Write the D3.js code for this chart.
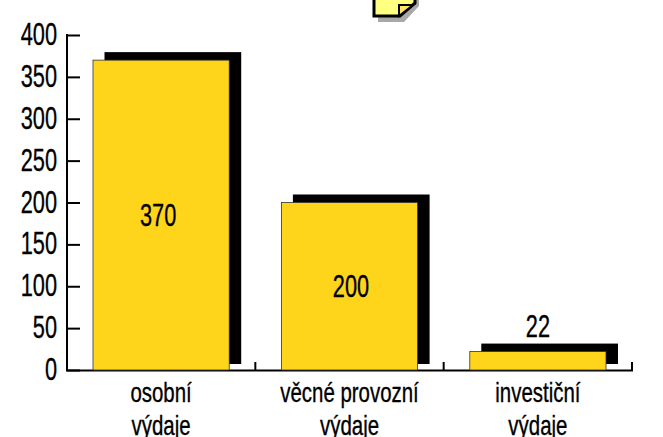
<!DOCTYPE html>
<html><head><meta charset="utf-8">
<script src="https://cdnjs.cloudflare.com/ajax/libs/d3/7.8.5/d3.min.js"></script>
<style>html,body{margin:0;padding:0;background:#fff;overflow:hidden}svg{display:block}
text{font-family:"Liberation Sans",sans-serif;fill:#000;stroke:#000;stroke-width:0.35}</style></head>
<body><svg id="c" width="663" height="437"></svg>
<script>
const categories=[["osobní","výdaje"],["věcné provozní","výdaje"],["investiční","výdaje"]];
const values=[370,200,22];
const yTicks=[0,50,100,150,200,250,300,350,400];
const svg=d3.select("#c");
const y=d3.scaleLinear().domain([0,400]).range([370,35]);
const x=d3.scaleBand().domain(d3.range(3)).range([67,632]).paddingInner(0.277).paddingOuter(0.138);
function label(g,tx,ty,s,anchor,fs,sx){
  g.append("text").attr("transform",`translate(${tx},${ty}) scale(${sx},1)`).attr("text-anchor",anchor||"middle")
   .attr("font-size",fs).text(s);
}
svg.selectAll("rect.s").data(values).join("rect").attr("class","s")
  .attr("x",(d,i)=>x(i)+11.5).attr("width",x.bandwidth()+0.5)
  .attr("y",d=>y(d)-8).attr("height",d=>364-(y(d)-8)).attr("fill","#000");
const ya=d3.axisLeft(y).tickValues(yTicks).tickSize(-13).tickFormat("");
const gy=svg.append("g").attr("transform","translate(67,0)").call(ya);
gy.select(".domain").remove();
gy.selectAll("line").attr("stroke","#000").attr("stroke-width",2);
svg.append("line").attr("x1",67).attr("x2",67).attr("y1",34).attr("y2",371).attr("stroke","#000").attr("stroke-width",2);
svg.append("line").attr("x1",66).attr("x2",633).attr("y1",370.5).attr("y2",370.5).attr("stroke","#000").attr("stroke-width",2);
const xt=d3.scaleLinear().domain([0,3]).range([67,632]);
svg.selectAll("line.xt").data([1,2,3]).join("line").attr("class","xt")
  .attr("x1",d=>xt(d)).attr("x2",d=>xt(d)).attr("y1",362).attr("y2",370).attr("stroke","#000").attr("stroke-width",2);
svg.selectAll("rect.b").data(values).join("rect").attr("class","b")
  .attr("x",(d,i)=>x(i)).attr("width",x.bandwidth())
  .attr("y",d=>y(d)).attr("height",d=>370-y(d)).attr("fill","#ffd51c").attr("stroke","#333").attr("stroke-width",0.8);
yTicks.forEach(t=>label(svg,57,y(t)+10,t,"end",32,0.68));
const valueShift=[-3,1.5,0];
values.forEach((v,i)=>{
  const cx=x(i)+x.bandwidth()/2+valueShift[i];
  const ty=i==2?337:(y(v)+(370-y(v))/2+10.5);
  label(svg,cx,ty,v,"middle",32,0.68);
});
categories.forEach((c,i)=>{
  const cx=x(i)+x.bandwidth()/2;
  label(svg,cx,402,c[0],"middle",28,0.73);
  label(svg,cx,435,c[1],"middle",28,0.73);
});
const icon=svg.append("g");
icon.append("path").attr("d","M378 -4H419V6L404 22H378Z").attr("fill","#a8a8a8");
icon.append("path").attr("d","M374 -4H415V3L400 16H374Z").attr("fill","#ffff80").attr("stroke","#000").attr("stroke-width",3);
icon.append("path").attr("d","M399 16V5H413Z").attr("fill","#ffe566").attr("stroke","#000").attr("stroke-width",2);
</script></body></html>
